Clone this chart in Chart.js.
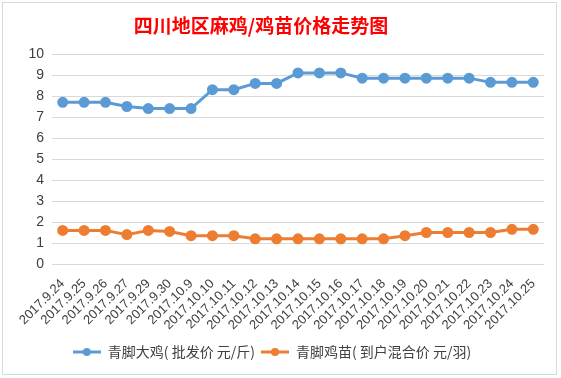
<!DOCTYPE html>
<html>
<head>
<meta charset="utf-8">
<script src="https://cdn.jsdelivr.net/npm/chart.js@4/dist/chart.umd.min.js"></script>
<style>
  html, body { margin: 0; padding: 0; background: #fff; }
  #wrap { position: relative; width: 561px; height: 378px; overflow: hidden; }
  #frame { position: absolute; left: 2px; top: 2px; width: 553px; height: 371px; border: 1px solid #d9d9d9; pointer-events: none; }
  #title { position: absolute; left: 111px; width: 300px; top: 12px; text-align: center; white-space: nowrap;
           font: bold 19px "Noto Sans CJK SC", sans-serif; color: #ff0000; line-height: 26px; }
</style>
</head>
<body>
<div id="wrap">
  <canvas id="c" width="561" height="378"></canvas>
  <div id="frame"></div>
  <div id="title">四川地区麻鸡/鸡苗价格走势图</div>
</div>
<script>
// dates
const dates = ['2017.9.24','2017.9.25','2017.9.26','2017.9.27','2017.9.29','2017.9.30','2017.10.9',
  '2017.10.10','2017.10.11','2017.10.12','2017.10.13','2017.10.14','2017.10.15','2017.10.16',
  '2017.10.17','2017.10.18','2017.10.19','2017.10.20','2017.10.21','2017.10.22','2017.10.23',
  '2017.10.24','2017.10.25'];

// 青脚大鸡 批发价
const bigChicken = [7.7,7.7,7.7,7.5,7.4,7.4,7.4,8.3,8.3,8.6,8.6,9.1,9.1,9.1,
  8.85,8.85,8.85,8.85,8.85,8.85,8.65,8.65,8.65];
// 青脚鸡苗 到户混合价
const chicks = [1.6,1.6,1.6,1.4,1.6,1.55,1.35,1.35,1.35,1.2,1.2,1.2,1.2,1.2,
  1.2,1.2,1.35,1.5,1.5,1.5,1.5,1.65,1.65];

const seriesNames = ['青脚大鸡( 批发价 元/斤)', '青脚鸡苗( 到户混合价 元/羽)'];
const colors = ['#5b9bd5', '#ed7d31'];
const yTicks = [0,1,2,3,4,5,6,7,8,9,10];

// legend marker: line with a dot
function legendMarker(color){
  const cv = document.createElement('canvas');
  cv.width = 28; cv.height = 10;
  const g = cv.getContext('2d');
  g.strokeStyle = color; g.lineWidth = 3;
  g.beginPath(); g.moveTo(0,5); g.lineTo(28,5); g.stroke();
  g.fillStyle = color;
  g.beginPath(); g.arc(14,5,4,0,Math.PI*2); g.fill();
  return cv;
}
const markers = colors.map(legendMarker);

const mkSet = (label, data, color) => ({
  label, data,
  borderColor: color, backgroundColor: color,
  borderWidth: 3, pointRadius: 4, pointHoverRadius: 4,
  pointBackgroundColor: color, pointBorderColor: color,
  tension: 0
});

new Chart(document.getElementById('c'), {
  type: 'line',
  data: {
    labels: dates,
    datasets: [
      mkSet(seriesNames[0], bigChicken, colors[0]),
      mkSet(seriesNames[1], chicks, colors[1])
    ]
  },
  options: {
    responsive: false,
    animation: false,
    layout: { padding: { top: 54, right: 17, bottom: 9, left: 0 } },
    plugins: {
      tooltip: { enabled: false },
      title: { display: false },
      legend: {
        position: 'bottom',
        labels: {
          usePointStyle: true,
          pointStyleWidth: 28,
          padding: 6,
          color: '#404040',
          font: { size: 14, family: '"Noto Sans CJK SC", sans-serif' },
          generateLabels: (chart) => chart.data.datasets.map((ds, i) => ({
            text: ds.label,
            fillStyle: colors[i],
            strokeStyle: colors[i],
            lineWidth: 0,
            pointStyle: markers[i],
            fontColor: '#404040',
            datasetIndex: i,
            hidden: false
          }))
        }
      }
    },
    scales: {
      x: {
        offset: true,
        grid: { display: false },
        border: { display: false },
        ticks: {
          autoSkip: false, minRotation: 45, maxRotation: 45,
          padding: 4,
          color: '#404040',
          font: { size: 13, family: '"Liberation Sans", "Noto Sans", sans-serif' }
        },
        afterFit: (s) => { s.height = 75; }
      },
      y: {
        min: 0, max: 10,
        afterBuildTicks: (s) => { s.ticks = yTicks.map(v => ({ value: v })); },
        grid: { color: '#d9d9d9', lineWidth: 1, drawTicks: false },
        border: { display: false },
        ticks: {
          padding: 8,
          color: '#404040',
          font: { size: 14, family: '"Liberation Sans", "Noto Sans", sans-serif' }
        },
        afterFit: (s) => { s.width = 52; }
      }
    }
  }
});
</script>
</body>
</html>
